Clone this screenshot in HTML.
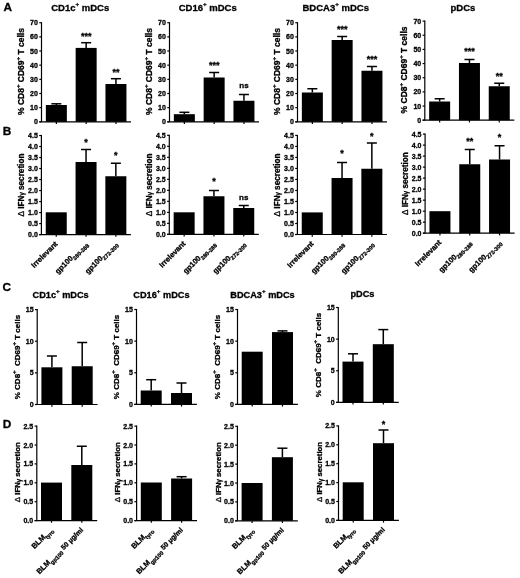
<!DOCTYPE html>
<html><head><meta charset="utf-8"><style>
html,body{margin:0;padding:0;background:#fff;}
svg{display:block;filter:blur(0.35px);}
text{font-family:"Liberation Sans", sans-serif;font-weight:bold;fill:#000;stroke:#000;stroke-width:0.3px;}
.ax{stroke:#000;stroke-width:1.2;}
.tk{stroke:#000;stroke-width:1.2;}
.eb{stroke:#000;stroke-width:1.5;}
.tl{font-size:7px;}

.xl{font-size:7.5px;}

.pl{font-size:11.8px;}
.st{font-size:9px;}
.ns{font-size:8px;}
</style></head><body>
<svg width="520" height="578" viewBox="0 0 520 578">
<rect width="520" height="578" fill="#fff"/>
<text x="3.6" y="10.7" class="pl">A</text>
<text x="2.8" y="135.3" class="pl">B</text>
<text x="2.4" y="290.6" class="pl">C</text>
<text x="2.8" y="427.6" class="pl">D</text>
<text x="51.25" y="11.20" class="ti" font-size="9.5">CD1c<tspan font-size="6.2" dy="-5.4">+</tspan><tspan dy="5.4"> mDCs</tspan></text>
<text x="178.75" y="11.20" class="ti" font-size="9.5">CD16<tspan font-size="6.2" dy="-5.4">+</tspan><tspan dy="5.4"> mDCs</tspan></text>
<text x="302.50" y="11.20" class="ti" font-size="9.5">BDCA3<tspan font-size="6.2" dy="-5.4">+</tspan><tspan dy="5.4"> mDCs</tspan></text>
<text x="450.50" y="10.80" class="ti" font-size="9.5">pDCs</text>
<text x="32.50" y="297.90" class="ti" font-size="9.2">CD1c<tspan font-size="6.2" dy="-5.4">+</tspan><tspan dy="5.4"> mDCs</tspan></text>
<text x="133.30" y="297.90" class="ti" font-size="9.2">CD16<tspan font-size="6.2" dy="-5.4">+</tspan><tspan dy="5.4"> mDCs</tspan></text>
<text x="230.30" y="297.90" class="ti" font-size="9.2">BDCA3<tspan font-size="6.2" dy="-5.4">+</tspan><tspan dy="5.4"> mDCs</tspan></text>
<text x="350.40" y="297.30" class="ti" font-size="9.2">pDCs</text>
<line x1="41.5" y1="22.20" x2="41.5" y2="121.80" class="ax"/>
<line x1="39.30" y1="121.80" x2="41.5" y2="121.80" class="tk"/>
<text x="37.90" y="124.30" class="tl" text-anchor="end">0</text>
<line x1="39.30" y1="107.64" x2="41.5" y2="107.64" class="tk"/>
<text x="37.90" y="110.14" class="tl" text-anchor="end">10</text>
<line x1="39.30" y1="93.49" x2="41.5" y2="93.49" class="tk"/>
<text x="37.90" y="95.99" class="tl" text-anchor="end">20</text>
<line x1="39.30" y1="79.33" x2="41.5" y2="79.33" class="tk"/>
<text x="37.90" y="81.83" class="tl" text-anchor="end">30</text>
<line x1="39.30" y1="65.17" x2="41.5" y2="65.17" class="tk"/>
<text x="37.90" y="67.67" class="tl" text-anchor="end">40</text>
<line x1="39.30" y1="51.01" x2="41.5" y2="51.01" class="tk"/>
<text x="37.90" y="53.51" class="tl" text-anchor="end">50</text>
<line x1="39.30" y1="36.86" x2="41.5" y2="36.86" class="tk"/>
<text x="37.90" y="39.36" class="tl" text-anchor="end">60</text>
<line x1="39.30" y1="22.70" x2="41.5" y2="22.70" class="tk"/>
<text x="37.90" y="25.20" class="tl" text-anchor="end">70</text>
<rect x="45.85" y="105.00" width="21" height="16.80" fill="#000"/>
<line x1="56.35" y1="105.00" x2="56.35" y2="103.80" class="eb"/>
<line x1="51.35" y1="103.80" x2="61.35" y2="103.80" class="eb"/>
<rect x="75.65" y="47.90" width="21" height="73.90" fill="#000"/>
<line x1="86.15" y1="47.90" x2="86.15" y2="42.70" class="eb"/>
<line x1="81.15" y1="42.70" x2="91.15" y2="42.70" class="eb"/>
<text x="86.15" y="38.60" class="st" text-anchor="middle">***</text>
<rect x="105.45" y="84.00" width="21" height="37.80" fill="#000"/>
<line x1="115.95" y1="84.00" x2="115.95" y2="78.70" class="eb"/>
<line x1="110.95" y1="78.70" x2="120.95" y2="78.70" class="eb"/>
<text x="115.95" y="74.60" class="st" text-anchor="middle">**</text>
<line x1="39.30" y1="121.8" x2="131.00" y2="121.8" class="ax"/>
<line x1="56.35" y1="121.8" x2="56.35" y2="124.00" class="tk"/>
<line x1="86.15" y1="121.8" x2="86.15" y2="124.00" class="tk"/>
<line x1="115.95" y1="121.8" x2="115.95" y2="124.00" class="tk"/>
<text transform="translate(23.90,71.55) rotate(-90)" class="yl" font-size="8.5" text-anchor="middle">% CD8<tspan font-size="6" dy="-3.8">+</tspan><tspan dy="3.8"> CD69</tspan><tspan font-size="6" dy="-3.8">+</tspan><tspan dy="3.8"> T cells</tspan></text>
<line x1="169.5" y1="22.20" x2="169.5" y2="121.80" class="ax"/>
<line x1="167.30" y1="121.80" x2="169.5" y2="121.80" class="tk"/>
<text x="165.90" y="124.30" class="tl" text-anchor="end">0</text>
<line x1="167.30" y1="107.64" x2="169.5" y2="107.64" class="tk"/>
<text x="165.90" y="110.14" class="tl" text-anchor="end">10</text>
<line x1="167.30" y1="93.49" x2="169.5" y2="93.49" class="tk"/>
<text x="165.90" y="95.99" class="tl" text-anchor="end">20</text>
<line x1="167.30" y1="79.33" x2="169.5" y2="79.33" class="tk"/>
<text x="165.90" y="81.83" class="tl" text-anchor="end">30</text>
<line x1="167.30" y1="65.17" x2="169.5" y2="65.17" class="tk"/>
<text x="165.90" y="67.67" class="tl" text-anchor="end">40</text>
<line x1="167.30" y1="51.01" x2="169.5" y2="51.01" class="tk"/>
<text x="165.90" y="53.51" class="tl" text-anchor="end">50</text>
<line x1="167.30" y1="36.86" x2="169.5" y2="36.86" class="tk"/>
<text x="165.90" y="39.36" class="tl" text-anchor="end">60</text>
<line x1="167.30" y1="22.70" x2="169.5" y2="22.70" class="tk"/>
<text x="165.90" y="25.20" class="tl" text-anchor="end">70</text>
<rect x="173.85" y="114.20" width="21" height="7.60" fill="#000"/>
<line x1="184.35" y1="114.20" x2="184.35" y2="112.30" class="eb"/>
<line x1="179.35" y1="112.30" x2="189.35" y2="112.30" class="eb"/>
<rect x="203.65" y="77.50" width="21" height="44.30" fill="#000"/>
<line x1="214.15" y1="77.50" x2="214.15" y2="72.50" class="eb"/>
<line x1="209.15" y1="72.50" x2="219.15" y2="72.50" class="eb"/>
<text x="214.15" y="67.95" class="st" text-anchor="middle">***</text>
<rect x="233.45" y="100.75" width="21" height="21.05" fill="#000"/>
<line x1="243.95" y1="100.75" x2="243.95" y2="94.50" class="eb"/>
<line x1="238.95" y1="94.50" x2="248.95" y2="94.50" class="eb"/>
<text x="243.95" y="88.45" class="ns" text-anchor="middle">ns</text>
<line x1="167.30" y1="121.8" x2="259.00" y2="121.8" class="ax"/>
<line x1="184.35" y1="121.8" x2="184.35" y2="124.00" class="tk"/>
<line x1="214.15" y1="121.8" x2="214.15" y2="124.00" class="tk"/>
<line x1="243.95" y1="121.8" x2="243.95" y2="124.00" class="tk"/>
<text transform="translate(151.90,71.55) rotate(-90)" class="yl" font-size="8.5" text-anchor="middle">% CD8<tspan font-size="6" dy="-3.8">+</tspan><tspan dy="3.8"> CD69</tspan><tspan font-size="6" dy="-3.8">+</tspan><tspan dy="3.8"> T cells</tspan></text>
<line x1="297.5" y1="22.20" x2="297.5" y2="121.80" class="ax"/>
<line x1="295.30" y1="121.80" x2="297.5" y2="121.80" class="tk"/>
<text x="293.90" y="124.30" class="tl" text-anchor="end">0</text>
<line x1="295.30" y1="107.64" x2="297.5" y2="107.64" class="tk"/>
<text x="293.90" y="110.14" class="tl" text-anchor="end">10</text>
<line x1="295.30" y1="93.49" x2="297.5" y2="93.49" class="tk"/>
<text x="293.90" y="95.99" class="tl" text-anchor="end">20</text>
<line x1="295.30" y1="79.33" x2="297.5" y2="79.33" class="tk"/>
<text x="293.90" y="81.83" class="tl" text-anchor="end">30</text>
<line x1="295.30" y1="65.17" x2="297.5" y2="65.17" class="tk"/>
<text x="293.90" y="67.67" class="tl" text-anchor="end">40</text>
<line x1="295.30" y1="51.01" x2="297.5" y2="51.01" class="tk"/>
<text x="293.90" y="53.51" class="tl" text-anchor="end">50</text>
<line x1="295.30" y1="36.86" x2="297.5" y2="36.86" class="tk"/>
<text x="293.90" y="39.36" class="tl" text-anchor="end">60</text>
<line x1="295.30" y1="22.70" x2="297.5" y2="22.70" class="tk"/>
<text x="293.90" y="25.20" class="tl" text-anchor="end">70</text>
<rect x="301.85" y="92.50" width="21" height="29.30" fill="#000"/>
<line x1="312.35" y1="92.50" x2="312.35" y2="88.75" class="eb"/>
<line x1="307.35" y1="88.75" x2="317.35" y2="88.75" class="eb"/>
<rect x="331.65" y="40.00" width="21" height="81.80" fill="#000"/>
<line x1="342.15" y1="40.00" x2="342.15" y2="36.50" class="eb"/>
<line x1="337.15" y1="36.50" x2="347.15" y2="36.50" class="eb"/>
<text x="342.15" y="31.50" class="st" text-anchor="middle">***</text>
<rect x="361.45" y="70.75" width="21" height="51.05" fill="#000"/>
<line x1="371.95" y1="70.75" x2="371.95" y2="66.50" class="eb"/>
<line x1="366.95" y1="66.50" x2="376.95" y2="66.50" class="eb"/>
<text x="371.95" y="61.80" class="st" text-anchor="middle">***</text>
<line x1="295.30" y1="121.8" x2="387.00" y2="121.8" class="ax"/>
<line x1="312.35" y1="121.8" x2="312.35" y2="124.00" class="tk"/>
<line x1="342.15" y1="121.8" x2="342.15" y2="124.00" class="tk"/>
<line x1="371.95" y1="121.8" x2="371.95" y2="124.00" class="tk"/>
<text transform="translate(279.90,71.55) rotate(-90)" class="yl" font-size="8.5" text-anchor="middle">% CD8<tspan font-size="6" dy="-3.8">+</tspan><tspan dy="3.8"> CD69</tspan><tspan font-size="6" dy="-3.8">+</tspan><tspan dy="3.8"> T cells</tspan></text>
<line x1="424.8" y1="20.60" x2="424.8" y2="120.20" class="ax"/>
<line x1="422.60" y1="120.20" x2="424.8" y2="120.20" class="tk"/>
<text x="421.20" y="122.70" class="tl" text-anchor="end">0</text>
<line x1="422.60" y1="106.04" x2="424.8" y2="106.04" class="tk"/>
<text x="421.20" y="108.54" class="tl" text-anchor="end">10</text>
<line x1="422.60" y1="91.89" x2="424.8" y2="91.89" class="tk"/>
<text x="421.20" y="94.39" class="tl" text-anchor="end">20</text>
<line x1="422.60" y1="77.73" x2="424.8" y2="77.73" class="tk"/>
<text x="421.20" y="80.23" class="tl" text-anchor="end">30</text>
<line x1="422.60" y1="63.57" x2="424.8" y2="63.57" class="tk"/>
<text x="421.20" y="66.07" class="tl" text-anchor="end">40</text>
<line x1="422.60" y1="49.41" x2="424.8" y2="49.41" class="tk"/>
<text x="421.20" y="51.91" class="tl" text-anchor="end">50</text>
<line x1="422.60" y1="35.26" x2="424.8" y2="35.26" class="tk"/>
<text x="421.20" y="37.76" class="tl" text-anchor="end">60</text>
<line x1="422.60" y1="21.10" x2="424.8" y2="21.10" class="tk"/>
<text x="421.20" y="23.60" class="tl" text-anchor="end">70</text>
<rect x="429.15" y="101.50" width="21" height="18.70" fill="#000"/>
<line x1="439.65" y1="101.50" x2="439.65" y2="98.75" class="eb"/>
<line x1="434.65" y1="98.75" x2="444.65" y2="98.75" class="eb"/>
<rect x="458.95" y="63.00" width="21" height="57.20" fill="#000"/>
<line x1="469.45" y1="63.00" x2="469.45" y2="59.50" class="eb"/>
<line x1="464.45" y1="59.50" x2="474.45" y2="59.50" class="eb"/>
<text x="469.45" y="54.20" class="st" text-anchor="middle">***</text>
<rect x="488.75" y="86.25" width="21" height="33.95" fill="#000"/>
<line x1="499.25" y1="86.25" x2="499.25" y2="83.25" class="eb"/>
<line x1="494.25" y1="83.25" x2="504.25" y2="83.25" class="eb"/>
<text x="499.25" y="78.70" class="st" text-anchor="middle">**</text>
<line x1="422.60" y1="120.2" x2="514.30" y2="120.2" class="ax"/>
<line x1="439.65" y1="120.2" x2="439.65" y2="122.40" class="tk"/>
<line x1="469.45" y1="120.2" x2="469.45" y2="122.40" class="tk"/>
<line x1="499.25" y1="120.2" x2="499.25" y2="122.40" class="tk"/>
<text transform="translate(407.20,69.95) rotate(-90)" class="yl" font-size="8.5" text-anchor="middle">% CD8<tspan font-size="6" dy="-3.8">+</tspan><tspan dy="3.8"> CD69</tspan><tspan font-size="6" dy="-3.8">+</tspan><tspan dy="3.8"> T cells</tspan></text>
<line x1="41.4" y1="135.00" x2="41.4" y2="234.60" class="ax"/>
<line x1="39.20" y1="234.60" x2="41.4" y2="234.60" class="tk"/>
<text x="37.80" y="237.10" class="tl" text-anchor="end">0.0</text>
<line x1="39.20" y1="223.59" x2="41.4" y2="223.59" class="tk"/>
<text x="37.80" y="226.09" class="tl" text-anchor="end">0.5</text>
<line x1="39.20" y1="212.58" x2="41.4" y2="212.58" class="tk"/>
<text x="37.80" y="215.08" class="tl" text-anchor="end">1.0</text>
<line x1="39.20" y1="201.57" x2="41.4" y2="201.57" class="tk"/>
<text x="37.80" y="204.07" class="tl" text-anchor="end">1.5</text>
<line x1="39.20" y1="190.56" x2="41.4" y2="190.56" class="tk"/>
<text x="37.80" y="193.06" class="tl" text-anchor="end">2.0</text>
<line x1="39.20" y1="179.54" x2="41.4" y2="179.54" class="tk"/>
<text x="37.80" y="182.04" class="tl" text-anchor="end">2.5</text>
<line x1="39.20" y1="168.53" x2="41.4" y2="168.53" class="tk"/>
<text x="37.80" y="171.03" class="tl" text-anchor="end">3.0</text>
<line x1="39.20" y1="157.52" x2="41.4" y2="157.52" class="tk"/>
<text x="37.80" y="160.02" class="tl" text-anchor="end">3.5</text>
<line x1="39.20" y1="146.51" x2="41.4" y2="146.51" class="tk"/>
<text x="37.80" y="149.01" class="tl" text-anchor="end">4.0</text>
<line x1="39.20" y1="135.50" x2="41.4" y2="135.50" class="tk"/>
<text x="37.80" y="138.00" class="tl" text-anchor="end">4.5</text>
<rect x="45.75" y="212.30" width="21" height="22.30" fill="#000"/>
<rect x="75.55" y="162.00" width="21" height="72.60" fill="#000"/>
<line x1="86.05" y1="162.00" x2="86.05" y2="149.50" class="eb"/>
<line x1="81.05" y1="149.50" x2="91.05" y2="149.50" class="eb"/>
<text x="86.05" y="144.95" class="st" text-anchor="middle">*</text>
<rect x="105.35" y="176.25" width="21" height="58.35" fill="#000"/>
<line x1="115.85" y1="176.25" x2="115.85" y2="163.25" class="eb"/>
<line x1="110.85" y1="163.25" x2="120.85" y2="163.25" class="eb"/>
<text x="115.85" y="157.95" class="st" text-anchor="middle">*</text>
<line x1="39.20" y1="234.6" x2="130.90" y2="234.6" class="ax"/>
<line x1="56.25" y1="234.6" x2="56.25" y2="236.80" class="tk"/>
<line x1="86.05" y1="234.6" x2="86.05" y2="236.80" class="tk"/>
<line x1="115.85" y1="234.6" x2="115.85" y2="236.80" class="tk"/>
<text transform="translate(23.80,185.05) rotate(-90)" class="yl" font-size="8.2" text-anchor="middle"><tspan font-weight="normal">Δ</tspan> IFN<tspan font-weight="normal" font-size="6.5" dy="0.6">γ</tspan><tspan dy="-0.6"> secretion</tspan></text>
<text transform="translate(58.15,244.35) rotate(-45)" class="xl" text-anchor="end">Irrelevant</text>
<text transform="translate(87.95,244.35) rotate(-45)" class="xl" text-anchor="end">gp100<tspan font-size="5.6" dy="2.3">280-288</tspan></text>
<text transform="translate(117.75,244.35) rotate(-45)" class="xl" text-anchor="end">gp100<tspan font-size="5.6" dy="2.3">272-300</tspan></text>
<line x1="169.3" y1="134.80" x2="169.3" y2="234.40" class="ax"/>
<line x1="167.10" y1="234.40" x2="169.3" y2="234.40" class="tk"/>
<text x="165.70" y="236.90" class="tl" text-anchor="end">0.0</text>
<line x1="167.10" y1="223.39" x2="169.3" y2="223.39" class="tk"/>
<text x="165.70" y="225.89" class="tl" text-anchor="end">0.5</text>
<line x1="167.10" y1="212.38" x2="169.3" y2="212.38" class="tk"/>
<text x="165.70" y="214.88" class="tl" text-anchor="end">1.0</text>
<line x1="167.10" y1="201.37" x2="169.3" y2="201.37" class="tk"/>
<text x="165.70" y="203.87" class="tl" text-anchor="end">1.5</text>
<line x1="167.10" y1="190.36" x2="169.3" y2="190.36" class="tk"/>
<text x="165.70" y="192.86" class="tl" text-anchor="end">2.0</text>
<line x1="167.10" y1="179.34" x2="169.3" y2="179.34" class="tk"/>
<text x="165.70" y="181.84" class="tl" text-anchor="end">2.5</text>
<line x1="167.10" y1="168.33" x2="169.3" y2="168.33" class="tk"/>
<text x="165.70" y="170.83" class="tl" text-anchor="end">3.0</text>
<line x1="167.10" y1="157.32" x2="169.3" y2="157.32" class="tk"/>
<text x="165.70" y="159.82" class="tl" text-anchor="end">3.5</text>
<line x1="167.10" y1="146.31" x2="169.3" y2="146.31" class="tk"/>
<text x="165.70" y="148.81" class="tl" text-anchor="end">4.0</text>
<line x1="167.10" y1="135.30" x2="169.3" y2="135.30" class="tk"/>
<text x="165.70" y="137.80" class="tl" text-anchor="end">4.5</text>
<rect x="173.65" y="212.30" width="21" height="22.10" fill="#000"/>
<rect x="203.45" y="196.25" width="21" height="38.15" fill="#000"/>
<line x1="213.95" y1="196.25" x2="213.95" y2="190.50" class="eb"/>
<line x1="208.95" y1="190.50" x2="218.95" y2="190.50" class="eb"/>
<text x="213.95" y="184.20" class="st" text-anchor="middle">*</text>
<rect x="233.25" y="208.00" width="21" height="26.40" fill="#000"/>
<line x1="243.75" y1="208.00" x2="243.75" y2="205.50" class="eb"/>
<line x1="238.75" y1="205.50" x2="248.75" y2="205.50" class="eb"/>
<text x="243.75" y="200.20" class="ns" text-anchor="middle">ns</text>
<line x1="167.10" y1="234.4" x2="258.80" y2="234.4" class="ax"/>
<line x1="184.15" y1="234.4" x2="184.15" y2="236.60" class="tk"/>
<line x1="213.95" y1="234.4" x2="213.95" y2="236.60" class="tk"/>
<line x1="243.75" y1="234.4" x2="243.75" y2="236.60" class="tk"/>
<text transform="translate(151.70,184.85) rotate(-90)" class="yl" font-size="8.2" text-anchor="middle"><tspan font-weight="normal">Δ</tspan> IFN<tspan font-weight="normal" font-size="6.5" dy="0.6">γ</tspan><tspan dy="-0.6"> secretion</tspan></text>
<text transform="translate(186.05,244.15) rotate(-45)" class="xl" text-anchor="end">Irrelevant</text>
<text transform="translate(215.85,244.15) rotate(-45)" class="xl" text-anchor="end">gp100<tspan font-size="5.6" dy="2.3">280-288</tspan></text>
<text transform="translate(245.65,244.15) rotate(-45)" class="xl" text-anchor="end">gp100<tspan font-size="5.6" dy="2.3">272-300</tspan></text>
<line x1="297.4" y1="134.90" x2="297.4" y2="234.50" class="ax"/>
<line x1="295.20" y1="234.50" x2="297.4" y2="234.50" class="tk"/>
<text x="293.80" y="237.00" class="tl" text-anchor="end">0.0</text>
<line x1="295.20" y1="223.49" x2="297.4" y2="223.49" class="tk"/>
<text x="293.80" y="225.99" class="tl" text-anchor="end">0.5</text>
<line x1="295.20" y1="212.48" x2="297.4" y2="212.48" class="tk"/>
<text x="293.80" y="214.98" class="tl" text-anchor="end">1.0</text>
<line x1="295.20" y1="201.47" x2="297.4" y2="201.47" class="tk"/>
<text x="293.80" y="203.97" class="tl" text-anchor="end">1.5</text>
<line x1="295.20" y1="190.46" x2="297.4" y2="190.46" class="tk"/>
<text x="293.80" y="192.96" class="tl" text-anchor="end">2.0</text>
<line x1="295.20" y1="179.44" x2="297.4" y2="179.44" class="tk"/>
<text x="293.80" y="181.94" class="tl" text-anchor="end">2.5</text>
<line x1="295.20" y1="168.43" x2="297.4" y2="168.43" class="tk"/>
<text x="293.80" y="170.93" class="tl" text-anchor="end">3.0</text>
<line x1="295.20" y1="157.42" x2="297.4" y2="157.42" class="tk"/>
<text x="293.80" y="159.92" class="tl" text-anchor="end">3.5</text>
<line x1="295.20" y1="146.41" x2="297.4" y2="146.41" class="tk"/>
<text x="293.80" y="148.91" class="tl" text-anchor="end">4.0</text>
<line x1="295.20" y1="135.40" x2="297.4" y2="135.40" class="tk"/>
<text x="293.80" y="137.90" class="tl" text-anchor="end">4.5</text>
<rect x="301.75" y="212.40" width="21" height="22.10" fill="#000"/>
<rect x="331.55" y="178.00" width="21" height="56.50" fill="#000"/>
<line x1="342.05" y1="178.00" x2="342.05" y2="162.50" class="eb"/>
<line x1="337.05" y1="162.50" x2="347.05" y2="162.50" class="eb"/>
<text x="342.05" y="156.20" class="st" text-anchor="middle">*</text>
<rect x="361.35" y="168.75" width="21" height="65.75" fill="#000"/>
<line x1="371.85" y1="168.75" x2="371.85" y2="143.00" class="eb"/>
<line x1="366.85" y1="143.00" x2="376.85" y2="143.00" class="eb"/>
<text x="371.85" y="139.20" class="st" text-anchor="middle">*</text>
<line x1="295.20" y1="234.5" x2="386.90" y2="234.5" class="ax"/>
<line x1="312.25" y1="234.5" x2="312.25" y2="236.70" class="tk"/>
<line x1="342.05" y1="234.5" x2="342.05" y2="236.70" class="tk"/>
<line x1="371.85" y1="234.5" x2="371.85" y2="236.70" class="tk"/>
<text transform="translate(279.80,184.95) rotate(-90)" class="yl" font-size="8.2" text-anchor="middle"><tspan font-weight="normal">Δ</tspan> IFN<tspan font-weight="normal" font-size="6.5" dy="0.6">γ</tspan><tspan dy="-0.6"> secretion</tspan></text>
<text transform="translate(314.15,244.25) rotate(-45)" class="xl" text-anchor="end">Irrelevant</text>
<text transform="translate(343.95,244.25) rotate(-45)" class="xl" text-anchor="end">gp100<tspan font-size="5.6" dy="2.3">280-288</tspan></text>
<text transform="translate(373.75,244.25) rotate(-45)" class="xl" text-anchor="end">gp100<tspan font-size="5.6" dy="2.3">272-300</tspan></text>
<line x1="425.1" y1="133.60" x2="425.1" y2="233.20" class="ax"/>
<line x1="422.90" y1="233.20" x2="425.1" y2="233.20" class="tk"/>
<text x="421.50" y="235.70" class="tl" text-anchor="end">0.0</text>
<line x1="422.90" y1="222.19" x2="425.1" y2="222.19" class="tk"/>
<text x="421.50" y="224.69" class="tl" text-anchor="end">0.5</text>
<line x1="422.90" y1="211.18" x2="425.1" y2="211.18" class="tk"/>
<text x="421.50" y="213.68" class="tl" text-anchor="end">1.0</text>
<line x1="422.90" y1="200.17" x2="425.1" y2="200.17" class="tk"/>
<text x="421.50" y="202.67" class="tl" text-anchor="end">1.5</text>
<line x1="422.90" y1="189.16" x2="425.1" y2="189.16" class="tk"/>
<text x="421.50" y="191.66" class="tl" text-anchor="end">2.0</text>
<line x1="422.90" y1="178.14" x2="425.1" y2="178.14" class="tk"/>
<text x="421.50" y="180.64" class="tl" text-anchor="end">2.5</text>
<line x1="422.90" y1="167.13" x2="425.1" y2="167.13" class="tk"/>
<text x="421.50" y="169.63" class="tl" text-anchor="end">3.0</text>
<line x1="422.90" y1="156.12" x2="425.1" y2="156.12" class="tk"/>
<text x="421.50" y="158.62" class="tl" text-anchor="end">3.5</text>
<line x1="422.90" y1="145.11" x2="425.1" y2="145.11" class="tk"/>
<text x="421.50" y="147.61" class="tl" text-anchor="end">4.0</text>
<line x1="422.90" y1="134.10" x2="425.1" y2="134.10" class="tk"/>
<text x="421.50" y="136.60" class="tl" text-anchor="end">4.5</text>
<rect x="429.45" y="211.20" width="21" height="22.00" fill="#000"/>
<rect x="459.25" y="164.25" width="21" height="68.95" fill="#000"/>
<line x1="469.75" y1="164.25" x2="469.75" y2="149.50" class="eb"/>
<line x1="464.75" y1="149.50" x2="474.75" y2="149.50" class="eb"/>
<text x="469.75" y="144.20" class="st" text-anchor="middle">**</text>
<rect x="489.05" y="159.50" width="21" height="73.70" fill="#000"/>
<line x1="499.55" y1="159.50" x2="499.55" y2="145.75" class="eb"/>
<line x1="494.55" y1="145.75" x2="504.55" y2="145.75" class="eb"/>
<text x="499.55" y="140.45" class="st" text-anchor="middle">*</text>
<line x1="422.90" y1="233.2" x2="514.60" y2="233.2" class="ax"/>
<line x1="439.95" y1="233.2" x2="439.95" y2="235.40" class="tk"/>
<line x1="469.75" y1="233.2" x2="469.75" y2="235.40" class="tk"/>
<line x1="499.55" y1="233.2" x2="499.55" y2="235.40" class="tk"/>
<text transform="translate(407.50,183.65) rotate(-90)" class="yl" font-size="8.2" text-anchor="middle"><tspan font-weight="normal">Δ</tspan> IFN<tspan font-weight="normal" font-size="6.5" dy="0.6">γ</tspan><tspan dy="-0.6"> secretion</tspan></text>
<text transform="translate(441.85,242.95) rotate(-45)" class="xl" text-anchor="end">Irrelevant</text>
<text transform="translate(471.65,242.95) rotate(-45)" class="xl" text-anchor="end">gp100<tspan font-size="5.6" dy="2.3">280-288</tspan></text>
<text transform="translate(501.45,242.95) rotate(-45)" class="xl" text-anchor="end">gp100<tspan font-size="5.6" dy="2.3">272-300</tspan></text>
<line x1="37.2" y1="309.10" x2="37.2" y2="404.50" class="ax"/>
<line x1="35.00" y1="404.50" x2="37.2" y2="404.50" class="tk"/>
<text x="33.60" y="407.00" class="tl" text-anchor="end">0</text>
<line x1="35.00" y1="372.87" x2="37.2" y2="372.87" class="tk"/>
<text x="33.60" y="375.37" class="tl" text-anchor="end">5</text>
<line x1="35.00" y1="341.23" x2="37.2" y2="341.23" class="tk"/>
<text x="33.60" y="343.73" class="tl" text-anchor="end">10</text>
<line x1="35.00" y1="309.60" x2="37.2" y2="309.60" class="tk"/>
<text x="33.60" y="312.10" class="tl" text-anchor="end">15</text>
<rect x="41.40" y="367.30" width="21" height="37.20" fill="#000"/>
<line x1="51.90" y1="367.30" x2="51.90" y2="356.00" class="eb"/>
<line x1="46.90" y1="356.00" x2="56.90" y2="356.00" class="eb"/>
<rect x="71.70" y="366.25" width="21" height="38.25" fill="#000"/>
<line x1="82.20" y1="366.25" x2="82.20" y2="342.50" class="eb"/>
<line x1="77.20" y1="342.50" x2="87.20" y2="342.50" class="eb"/>
<line x1="35.00" y1="404.5" x2="97.60" y2="404.5" class="ax"/>
<line x1="51.90" y1="404.5" x2="51.90" y2="406.70" class="tk"/>
<line x1="82.20" y1="404.5" x2="82.20" y2="406.70" class="tk"/>
<text transform="translate(19.60,357.05) rotate(-90)" class="yl" font-size="8.0" text-anchor="middle">% CD8<tspan font-size="6" dy="-3.8">+</tspan><tspan dy="3.8">&#160; CD69</tspan><tspan font-size="6" dy="-3.8">+</tspan><tspan dy="3.8"> T cells</tspan></text>
<line x1="136.5" y1="309.00" x2="136.5" y2="404.40" class="ax"/>
<line x1="134.30" y1="404.40" x2="136.5" y2="404.40" class="tk"/>
<text x="132.90" y="406.90" class="tl" text-anchor="end">0</text>
<line x1="134.30" y1="372.77" x2="136.5" y2="372.77" class="tk"/>
<text x="132.90" y="375.27" class="tl" text-anchor="end">5</text>
<line x1="134.30" y1="341.13" x2="136.5" y2="341.13" class="tk"/>
<text x="132.90" y="343.63" class="tl" text-anchor="end">10</text>
<line x1="134.30" y1="309.50" x2="136.5" y2="309.50" class="tk"/>
<text x="132.90" y="312.00" class="tl" text-anchor="end">15</text>
<rect x="140.70" y="390.50" width="21" height="13.90" fill="#000"/>
<line x1="151.20" y1="390.50" x2="151.20" y2="379.70" class="eb"/>
<line x1="146.20" y1="379.70" x2="156.20" y2="379.70" class="eb"/>
<rect x="171.00" y="393.00" width="21" height="11.40" fill="#000"/>
<line x1="181.50" y1="393.00" x2="181.50" y2="383.00" class="eb"/>
<line x1="176.50" y1="383.00" x2="186.50" y2="383.00" class="eb"/>
<line x1="134.30" y1="404.4" x2="196.90" y2="404.4" class="ax"/>
<line x1="151.20" y1="404.4" x2="151.20" y2="406.60" class="tk"/>
<line x1="181.50" y1="404.4" x2="181.50" y2="406.60" class="tk"/>
<text transform="translate(118.90,356.95) rotate(-90)" class="yl" font-size="8.0" text-anchor="middle">% CD8<tspan font-size="6" dy="-3.8">+</tspan><tspan dy="3.8">&#160; CD69</tspan><tspan font-size="6" dy="-3.8">+</tspan><tspan dy="3.8"> T cells</tspan></text>
<line x1="237.5" y1="309.00" x2="237.5" y2="404.40" class="ax"/>
<line x1="235.30" y1="404.40" x2="237.5" y2="404.40" class="tk"/>
<text x="233.90" y="406.90" class="tl" text-anchor="end">0</text>
<line x1="235.30" y1="372.77" x2="237.5" y2="372.77" class="tk"/>
<text x="233.90" y="375.27" class="tl" text-anchor="end">5</text>
<line x1="235.30" y1="341.13" x2="237.5" y2="341.13" class="tk"/>
<text x="233.90" y="343.63" class="tl" text-anchor="end">10</text>
<line x1="235.30" y1="309.50" x2="237.5" y2="309.50" class="tk"/>
<text x="233.90" y="312.00" class="tl" text-anchor="end">15</text>
<rect x="241.70" y="351.70" width="21" height="52.70" fill="#000"/>
<rect x="272.00" y="332.10" width="21" height="72.30" fill="#000"/>
<line x1="282.50" y1="332.10" x2="282.50" y2="330.90" class="eb"/>
<line x1="277.50" y1="330.90" x2="287.50" y2="330.90" class="eb"/>
<line x1="235.30" y1="404.4" x2="297.90" y2="404.4" class="ax"/>
<line x1="252.20" y1="404.4" x2="252.20" y2="406.60" class="tk"/>
<line x1="282.50" y1="404.4" x2="282.50" y2="406.60" class="tk"/>
<text transform="translate(219.90,356.95) rotate(-90)" class="yl" font-size="8.0" text-anchor="middle">% CD8<tspan font-size="6" dy="-3.8">+</tspan><tspan dy="3.8">&#160; CD69</tspan><tspan font-size="6" dy="-3.8">+</tspan><tspan dy="3.8"> T cells</tspan></text>
<line x1="338.3" y1="307.00" x2="338.3" y2="402.40" class="ax"/>
<line x1="336.10" y1="402.40" x2="338.3" y2="402.40" class="tk"/>
<text x="334.70" y="404.90" class="tl" text-anchor="end">0</text>
<line x1="336.10" y1="370.77" x2="338.3" y2="370.77" class="tk"/>
<text x="334.70" y="373.27" class="tl" text-anchor="end">5</text>
<line x1="336.10" y1="339.13" x2="338.3" y2="339.13" class="tk"/>
<text x="334.70" y="341.63" class="tl" text-anchor="end">10</text>
<line x1="336.10" y1="307.50" x2="338.3" y2="307.50" class="tk"/>
<text x="334.70" y="310.00" class="tl" text-anchor="end">15</text>
<rect x="342.50" y="361.60" width="21" height="40.80" fill="#000"/>
<line x1="353.00" y1="361.60" x2="353.00" y2="353.80" class="eb"/>
<line x1="348.00" y1="353.80" x2="358.00" y2="353.80" class="eb"/>
<rect x="372.80" y="344.20" width="21" height="58.20" fill="#000"/>
<line x1="383.30" y1="344.20" x2="383.30" y2="329.60" class="eb"/>
<line x1="378.30" y1="329.60" x2="388.30" y2="329.60" class="eb"/>
<line x1="336.10" y1="402.4" x2="398.70" y2="402.4" class="ax"/>
<line x1="353.00" y1="402.4" x2="353.00" y2="404.60" class="tk"/>
<line x1="383.30" y1="402.4" x2="383.30" y2="404.60" class="tk"/>
<text transform="translate(320.70,354.95) rotate(-90)" class="yl" font-size="8.0" text-anchor="middle">% CD8<tspan font-size="6" dy="-3.8">+</tspan><tspan dy="3.8">&#160; CD69</tspan><tspan font-size="6" dy="-3.8">+</tspan><tspan dy="3.8"> T cells</tspan></text>
<line x1="36.8" y1="425.60" x2="36.8" y2="520.60" class="ax"/>
<line x1="34.60" y1="520.60" x2="36.8" y2="520.60" class="tk"/>
<text x="33.20" y="523.10" class="tl" text-anchor="end">0.0</text>
<line x1="34.60" y1="501.70" x2="36.8" y2="501.70" class="tk"/>
<text x="33.20" y="504.20" class="tl" text-anchor="end">0.5</text>
<line x1="34.60" y1="482.80" x2="36.8" y2="482.80" class="tk"/>
<text x="33.20" y="485.30" class="tl" text-anchor="end">1.0</text>
<line x1="34.60" y1="463.90" x2="36.8" y2="463.90" class="tk"/>
<text x="33.20" y="466.40" class="tl" text-anchor="end">1.5</text>
<line x1="34.60" y1="445.00" x2="36.8" y2="445.00" class="tk"/>
<text x="33.20" y="447.50" class="tl" text-anchor="end">2.0</text>
<line x1="34.60" y1="426.10" x2="36.8" y2="426.10" class="tk"/>
<text x="33.20" y="428.60" class="tl" text-anchor="end">2.5</text>
<rect x="41.00" y="482.60" width="21" height="38.00" fill="#000"/>
<rect x="71.30" y="465.00" width="21" height="55.60" fill="#000"/>
<line x1="81.80" y1="465.00" x2="81.80" y2="446.25" class="eb"/>
<line x1="76.80" y1="446.25" x2="86.80" y2="446.25" class="eb"/>
<line x1="34.60" y1="520.6" x2="97.20" y2="520.6" class="ax"/>
<line x1="51.50" y1="520.6" x2="51.50" y2="522.80" class="tk"/>
<line x1="81.80" y1="520.6" x2="81.80" y2="522.80" class="tk"/>
<text transform="translate(20.20,472.15) rotate(-90)" class="yl" font-size="7.8" text-anchor="middle"><tspan font-weight="normal">Δ</tspan> IFN<tspan font-weight="normal" font-size="6.5" dy="0.6">γ</tspan><tspan dy="-0.6"> secretion</tspan></text>
<text transform="translate(53.40,530.35) rotate(-45)" class="xl" text-anchor="end">BLM<tspan font-size="5.6" dy="2.3">tyro</tspan></text>
<text transform="translate(83.70,530.35) rotate(-45)" class="xl" text-anchor="end">BLM<tspan font-size="5.6" dy="2.3">gp100</tspan><tspan dy="-2.3" font-size="7"> 50 µg/ml</tspan></text>
<line x1="136.6" y1="425.60" x2="136.6" y2="520.60" class="ax"/>
<line x1="134.40" y1="520.60" x2="136.6" y2="520.60" class="tk"/>
<text x="133.00" y="523.10" class="tl" text-anchor="end">0.0</text>
<line x1="134.40" y1="501.70" x2="136.6" y2="501.70" class="tk"/>
<text x="133.00" y="504.20" class="tl" text-anchor="end">0.5</text>
<line x1="134.40" y1="482.80" x2="136.6" y2="482.80" class="tk"/>
<text x="133.00" y="485.30" class="tl" text-anchor="end">1.0</text>
<line x1="134.40" y1="463.90" x2="136.6" y2="463.90" class="tk"/>
<text x="133.00" y="466.40" class="tl" text-anchor="end">1.5</text>
<line x1="134.40" y1="445.00" x2="136.6" y2="445.00" class="tk"/>
<text x="133.00" y="447.50" class="tl" text-anchor="end">2.0</text>
<line x1="134.40" y1="426.10" x2="136.6" y2="426.10" class="tk"/>
<text x="133.00" y="428.60" class="tl" text-anchor="end">2.5</text>
<rect x="140.80" y="482.50" width="21" height="38.10" fill="#000"/>
<rect x="171.10" y="478.50" width="21" height="42.10" fill="#000"/>
<line x1="181.60" y1="478.50" x2="181.60" y2="476.70" class="eb"/>
<line x1="176.60" y1="476.70" x2="186.60" y2="476.70" class="eb"/>
<line x1="134.40" y1="520.6" x2="197.00" y2="520.6" class="ax"/>
<line x1="151.30" y1="520.6" x2="151.30" y2="522.80" class="tk"/>
<line x1="181.60" y1="520.6" x2="181.60" y2="522.80" class="tk"/>
<text transform="translate(120.00,472.15) rotate(-90)" class="yl" font-size="7.8" text-anchor="middle"><tspan font-weight="normal">Δ</tspan> IFN<tspan font-weight="normal" font-size="6.5" dy="0.6">γ</tspan><tspan dy="-0.6"> secretion</tspan></text>
<text transform="translate(153.20,530.35) rotate(-45)" class="xl" text-anchor="end">BLM<tspan font-size="5.6" dy="2.3">tyro</tspan></text>
<text transform="translate(183.50,530.35) rotate(-45)" class="xl" text-anchor="end">BLM<tspan font-size="5.6" dy="2.3">gp100</tspan><tspan dy="-2.3" font-size="7"> 50 µg/ml</tspan></text>
<line x1="237.4" y1="425.80" x2="237.4" y2="520.80" class="ax"/>
<line x1="235.20" y1="520.80" x2="237.4" y2="520.80" class="tk"/>
<text x="233.80" y="523.30" class="tl" text-anchor="end">0.0</text>
<line x1="235.20" y1="501.90" x2="237.4" y2="501.90" class="tk"/>
<text x="233.80" y="504.40" class="tl" text-anchor="end">0.5</text>
<line x1="235.20" y1="483.00" x2="237.4" y2="483.00" class="tk"/>
<text x="233.80" y="485.50" class="tl" text-anchor="end">1.0</text>
<line x1="235.20" y1="464.10" x2="237.4" y2="464.10" class="tk"/>
<text x="233.80" y="466.60" class="tl" text-anchor="end">1.5</text>
<line x1="235.20" y1="445.20" x2="237.4" y2="445.20" class="tk"/>
<text x="233.80" y="447.70" class="tl" text-anchor="end">2.0</text>
<line x1="235.20" y1="426.30" x2="237.4" y2="426.30" class="tk"/>
<text x="233.80" y="428.80" class="tl" text-anchor="end">2.5</text>
<rect x="241.60" y="483.00" width="21" height="37.80" fill="#000"/>
<rect x="271.90" y="457.20" width="21" height="63.60" fill="#000"/>
<line x1="282.40" y1="457.20" x2="282.40" y2="448.20" class="eb"/>
<line x1="277.40" y1="448.20" x2="287.40" y2="448.20" class="eb"/>
<line x1="235.20" y1="520.8" x2="297.80" y2="520.8" class="ax"/>
<line x1="252.10" y1="520.8" x2="252.10" y2="523.00" class="tk"/>
<line x1="282.40" y1="520.8" x2="282.40" y2="523.00" class="tk"/>
<text transform="translate(220.80,472.35) rotate(-90)" class="yl" font-size="7.8" text-anchor="middle"><tspan font-weight="normal">Δ</tspan> IFN<tspan font-weight="normal" font-size="6.5" dy="0.6">γ</tspan><tspan dy="-0.6"> secretion</tspan></text>
<text transform="translate(254.00,530.55) rotate(-45)" class="xl" text-anchor="end">BLM<tspan font-size="5.6" dy="2.3">tyro</tspan></text>
<text transform="translate(284.30,530.55) rotate(-45)" class="xl" text-anchor="end">BLM<tspan font-size="5.6" dy="2.3">gp100</tspan><tspan dy="-2.3" font-size="7"> 50 µg/ml</tspan></text>
<line x1="338.5" y1="425.40" x2="338.5" y2="520.40" class="ax"/>
<line x1="336.30" y1="520.40" x2="338.5" y2="520.40" class="tk"/>
<text x="334.90" y="522.90" class="tl" text-anchor="end">0.0</text>
<line x1="336.30" y1="501.50" x2="338.5" y2="501.50" class="tk"/>
<text x="334.90" y="504.00" class="tl" text-anchor="end">0.5</text>
<line x1="336.30" y1="482.60" x2="338.5" y2="482.60" class="tk"/>
<text x="334.90" y="485.10" class="tl" text-anchor="end">1.0</text>
<line x1="336.30" y1="463.70" x2="338.5" y2="463.70" class="tk"/>
<text x="334.90" y="466.20" class="tl" text-anchor="end">1.5</text>
<line x1="336.30" y1="444.80" x2="338.5" y2="444.80" class="tk"/>
<text x="334.90" y="447.30" class="tl" text-anchor="end">2.0</text>
<line x1="336.30" y1="425.90" x2="338.5" y2="425.90" class="tk"/>
<text x="334.90" y="428.40" class="tl" text-anchor="end">2.5</text>
<rect x="342.70" y="482.30" width="21" height="38.10" fill="#000"/>
<rect x="373.00" y="443.20" width="21" height="77.20" fill="#000"/>
<line x1="383.50" y1="443.20" x2="383.50" y2="430.00" class="eb"/>
<line x1="378.50" y1="430.00" x2="388.50" y2="430.00" class="eb"/>
<text x="383.50" y="427.20" class="st" text-anchor="middle">*</text>
<line x1="336.30" y1="520.4" x2="398.90" y2="520.4" class="ax"/>
<line x1="353.20" y1="520.4" x2="353.20" y2="522.60" class="tk"/>
<line x1="383.50" y1="520.4" x2="383.50" y2="522.60" class="tk"/>
<text transform="translate(321.90,471.95) rotate(-90)" class="yl" font-size="7.8" text-anchor="middle"><tspan font-weight="normal">Δ</tspan> IFN<tspan font-weight="normal" font-size="6.5" dy="0.6">γ</tspan><tspan dy="-0.6"> secretion</tspan></text>
<text transform="translate(355.10,530.15) rotate(-45)" class="xl" text-anchor="end">BLM<tspan font-size="5.6" dy="2.3">tyro</tspan></text>
<text transform="translate(385.40,530.15) rotate(-45)" class="xl" text-anchor="end">BLM<tspan font-size="5.6" dy="2.3">gp100</tspan><tspan dy="-2.3" font-size="7"> 50 µg/ml</tspan></text>
</svg>
</body></html>
